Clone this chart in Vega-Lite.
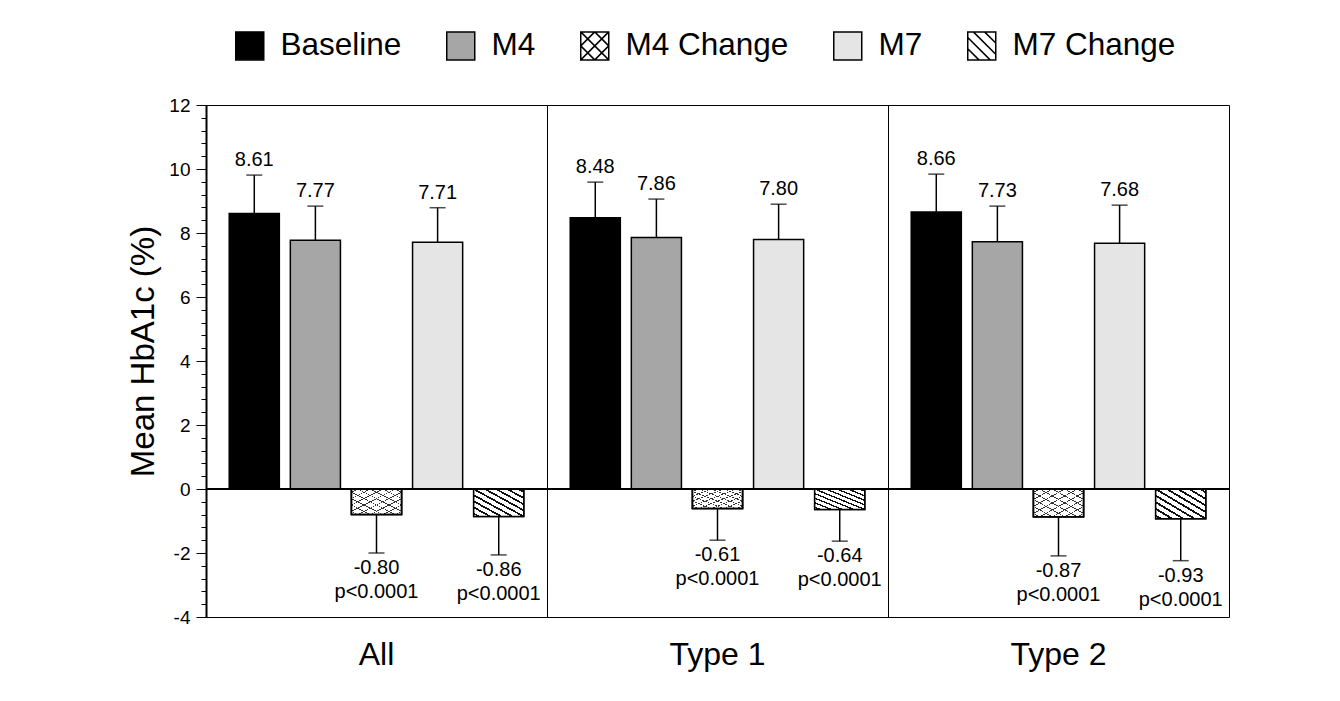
{
  "$schema": "https://vega.github.io/schema/vega-lite/v6.json",
  "padding": {"left": 127, "top": 30, "right": 5, "bottom": 5},
  "background": "white",
  "bounds": "flush",
  "config": {
    "font": "Liberation Sans",
    "view": {"stroke": "black", "strokeWidth": 1},
    "text": {"font": "Liberation Sans", "color": "black"}
  },
  "data": {
    "values": [
      {"group": "All", "series": "Baseline", "value": 8.61, "err": 9.81, "label": "8.61"},
      {"group": "All", "series": "M4", "value": 7.77, "err": 8.84, "label": "7.77"},
      {"group": "All", "series": "M4 Change", "value": -0.80, "err": -2.00, "label": "-0.80\np<0.0001"},
      {"group": "All", "series": "M7", "value": 7.71, "err": 8.79, "label": "7.71"},
      {"group": "All", "series": "M7 Change", "value": -0.86, "err": -2.06, "label": "-0.86\np<0.0001"},
      {"group": "Type 1", "series": "Baseline", "value": 8.48, "err": 9.59, "label": "8.48"},
      {"group": "Type 1", "series": "M4", "value": 7.86, "err": 9.06, "label": "7.86"},
      {"group": "Type 1", "series": "M4 Change", "value": -0.61, "err": -1.60, "label": "-0.61\np<0.0001"},
      {"group": "Type 1", "series": "M7", "value": 7.80, "err": 8.90, "label": "7.80"},
      {"group": "Type 1", "series": "M7 Change", "value": -0.64, "err": -1.63, "label": "-0.64\np<0.0001"},
      {"group": "Type 2", "series": "Baseline", "value": 8.66, "err": 9.84, "label": "8.66"},
      {"group": "Type 2", "series": "M4", "value": 7.73, "err": 8.84, "label": "7.73"},
      {"group": "Type 2", "series": "M4 Change", "value": -0.87, "err": -2.09, "label": "-0.87\np<0.0001"},
      {"group": "Type 2", "series": "M7", "value": 7.68, "err": 8.87, "label": "7.68"},
      {"group": "Type 2", "series": "M7 Change", "value": -0.93, "err": -2.24, "label": "-0.93\np<0.0001"}
    ]
  },
  "facet": {
    "column": {
      "field": "group", "type": "nominal", "sort": ["All", "Type 1", "Type 2"],
      "header": {"title": null, "labelOrient": "bottom", "labelFontSize": 32, "labelPadding": 23, "labelFont": "Liberation Sans", "labelColor": "black"}
    }
  },
  "spacing": 0,
  "spec": {
    "width": 341,
    "height": 512,
    "resolve": {"axis": {"y": "independent"}},
    "layer": [
      {
        "mark": {"type": "bar", "stroke": "black", "strokeWidth": 1.5},
        "encoding": {
          "x": {"field": "series", "type": "nominal", "sort": ["Baseline", "M4", "M4 Change", "M7", "M7 Change"], "axis": null, "scale": {"paddingInner": 0.18, "paddingOuter": 0.38}},
          "y": {
            "field": "value", "type": "quantitative",
            "scale": {"domain": [-4, 12], "nice": false, "zero": false},
            "axis": {
              "orient": "left",
              "title": "Mean HbA1c (%)",
              "titleFontSize": 33, "titleFontWeight": "normal", "titleColor": "black", "titleFont": "Liberation Sans", "titlePadding": 8, "titleY": 246,
              "values": [-4, -2, 0, 2, 4, 6, 8, 10, 12],
              "labelExpr": "datum.value < 0 ? '-' + format(-datum.value, 'd') : format(datum.value, 'd')",
              "tickSize": 10,
              "labelFontSize": 19, "labelColor": "black", "labelFont": "Liberation Sans", "labelPadding": 6,
              "labelOverlap": false, "labelFlush": false,
              "domainColor": "black", "domainWidth": 2, "tickColor": "black", "tickWidth": 1, "grid": false
            }
          },
          "fill": {
            "field": "series", "type": "nominal",
            "scale": {"domain": ["Baseline", "M4", "M4 Change", "M7", "M7 Change"], "range": ["#000000", "#a6a6a6", "#ffffff", "#e5e5e5", "#ffffff"]},
            "legend": {
              "title": null, "orient": "none", "legendX": 28, "legendY": -75, "direction": "horizontal",
              "symbolType": "square", "symbolSize": 784, "labelFontSize": 31.5, "labelFont": "Liberation Sans", "labelColor": "black",
              "labelOffset": 15, "columnPadding": 41, "labelLimit": 400, "symbolStrokeWidth": 1.5, "symbolStrokeColor": "black", "symbolOpacity": 1,
              "encode": {
                "symbols": {
                  "update": {
                    "shape": [
                      {"test": "datum.value === 'M4 Change'", "value": "M-1,-1H1V1H-1Z M-1,0L0,-1 M-1,1L1,-1 M0,1L1,0 M0,-1L1,0 M-1,-1L1,1 M-1,0L0,1"},
                      {"test": "datum.value === 'M7 Change'", "value": "M-1,-1H1V1H-1Z M0.2,-1L1,-0.2 M-0.6,-1L1,0.6 M-1,-0.6L0.6,1 M-1,0.2L-0.2,1"},
                      {"value": "square"}
                    ],
                    "stroke": {"value": "black"},
                    "strokeWidth": {"value": 1.5}
                  }
                }
              }
            }
          }
        }
      },
      {
        "transform": [{"filter": "datum.series === 'M4 Change'"}],
        "mark": {
          "type": "bar", "stroke": "black", "strokeWidth": 1.5,
          "fill": {
            "gradient": "linear", "x1": 0, "y1": 0, "x2": 1, "y2": 1,
            "stops": [
              {"offset": 0, "color": "#ffffff"},
              {"offset": 0.0545, "color": "#ffffff"}, {"offset": 0.0545, "color": "#333333"}, {"offset": 0.0705, "color": "#333333"}, {"offset": 0.0705, "color": "#ffffff"},
              {"offset": 0.1795, "color": "#ffffff"}, {"offset": 0.1795, "color": "#333333"}, {"offset": 0.1955, "color": "#333333"}, {"offset": 0.1955, "color": "#ffffff"},
              {"offset": 0.3045, "color": "#ffffff"}, {"offset": 0.3045, "color": "#333333"}, {"offset": 0.3205, "color": "#333333"}, {"offset": 0.3205, "color": "#ffffff"},
              {"offset": 0.4295, "color": "#ffffff"}, {"offset": 0.4295, "color": "#333333"}, {"offset": 0.4455, "color": "#333333"}, {"offset": 0.4455, "color": "#ffffff"},
              {"offset": 0.5545, "color": "#ffffff"}, {"offset": 0.5545, "color": "#333333"}, {"offset": 0.5705, "color": "#333333"}, {"offset": 0.5705, "color": "#ffffff"},
              {"offset": 0.6795, "color": "#ffffff"}, {"offset": 0.6795, "color": "#333333"}, {"offset": 0.6955, "color": "#333333"}, {"offset": 0.6955, "color": "#ffffff"},
              {"offset": 0.8045, "color": "#ffffff"}, {"offset": 0.8045, "color": "#333333"}, {"offset": 0.8205, "color": "#333333"}, {"offset": 0.8205, "color": "#ffffff"},
              {"offset": 0.9295, "color": "#ffffff"}, {"offset": 0.9295, "color": "#333333"}, {"offset": 0.9455, "color": "#333333"}, {"offset": 0.9455, "color": "#ffffff"},
              {"offset": 1, "color": "#ffffff"}
            ]
          }
        },
        "encoding": {
          "x": {"field": "series", "type": "nominal", "sort": ["Baseline", "M4", "M4 Change", "M7", "M7 Change"], "axis": null, "scale": {"paddingInner": 0.18, "paddingOuter": 0.38}},
          "y": {"field": "value", "type": "quantitative", "scale": {"domain": [-4, 12], "nice": false, "zero": false}, "axis": null}
        }
      },
      {
        "transform": [{"filter": "datum.series === 'M4 Change'"}],
        "mark": {
          "type": "bar", "stroke": "black", "strokeWidth": 1.5,
          "fill": {
            "gradient": "linear", "x1": 0, "y1": 1, "x2": 1, "y2": 0,
            "stops": [
              {"offset": 0, "color": "rgba(255,255,255,0)"},
              {"offset": 0.0545, "color": "rgba(255,255,255,0)"}, {"offset": 0.0545, "color": "#333333"}, {"offset": 0.0705, "color": "#333333"}, {"offset": 0.0705, "color": "rgba(255,255,255,0)"},
              {"offset": 0.1795, "color": "rgba(255,255,255,0)"}, {"offset": 0.1795, "color": "#333333"}, {"offset": 0.1955, "color": "#333333"}, {"offset": 0.1955, "color": "rgba(255,255,255,0)"},
              {"offset": 0.3045, "color": "rgba(255,255,255,0)"}, {"offset": 0.3045, "color": "#333333"}, {"offset": 0.3205, "color": "#333333"}, {"offset": 0.3205, "color": "rgba(255,255,255,0)"},
              {"offset": 0.4295, "color": "rgba(255,255,255,0)"}, {"offset": 0.4295, "color": "#333333"}, {"offset": 0.4455, "color": "#333333"}, {"offset": 0.4455, "color": "rgba(255,255,255,0)"},
              {"offset": 0.5545, "color": "rgba(255,255,255,0)"}, {"offset": 0.5545, "color": "#333333"}, {"offset": 0.5705, "color": "#333333"}, {"offset": 0.5705, "color": "rgba(255,255,255,0)"},
              {"offset": 0.6795, "color": "rgba(255,255,255,0)"}, {"offset": 0.6795, "color": "#333333"}, {"offset": 0.6955, "color": "#333333"}, {"offset": 0.6955, "color": "rgba(255,255,255,0)"},
              {"offset": 0.8045, "color": "rgba(255,255,255,0)"}, {"offset": 0.8045, "color": "#333333"}, {"offset": 0.8205, "color": "#333333"}, {"offset": 0.8205, "color": "rgba(255,255,255,0)"},
              {"offset": 0.9295, "color": "rgba(255,255,255,0)"}, {"offset": 0.9295, "color": "#333333"}, {"offset": 0.9455, "color": "#333333"}, {"offset": 0.9455, "color": "rgba(255,255,255,0)"},
              {"offset": 1, "color": "rgba(255,255,255,0)"}
            ]
          }
        },
        "encoding": {
          "x": {"field": "series", "type": "nominal", "sort": ["Baseline", "M4", "M4 Change", "M7", "M7 Change"], "axis": null, "scale": {"paddingInner": 0.18, "paddingOuter": 0.38}},
          "y": {"field": "value", "type": "quantitative", "scale": {"domain": [-4, 12], "nice": false, "zero": false}, "axis": null}
        }
      },
      {
        "transform": [{"filter": "datum.series === 'M7 Change'"}],
        "mark": {
          "type": "bar", "stroke": "black", "strokeWidth": 1.5,
          "fill": {
            "gradient": "linear", "x1": 0, "y1": 1, "x2": 1, "y2": 0,
            "stops": [
              {"offset": 0, "color": "#ffffff"},
              {"offset": 0.038, "color": "#ffffff"}, {"offset": 0.038, "color": "#111111"}, {"offset": 0.073, "color": "#111111"}, {"offset": 0.073, "color": "#ffffff"},
              {"offset": 0.149, "color": "#ffffff"}, {"offset": 0.149, "color": "#111111"}, {"offset": 0.184, "color": "#111111"}, {"offset": 0.184, "color": "#ffffff"},
              {"offset": 0.260, "color": "#ffffff"}, {"offset": 0.260, "color": "#111111"}, {"offset": 0.295, "color": "#111111"}, {"offset": 0.295, "color": "#ffffff"},
              {"offset": 0.371, "color": "#ffffff"}, {"offset": 0.371, "color": "#111111"}, {"offset": 0.406, "color": "#111111"}, {"offset": 0.406, "color": "#ffffff"},
              {"offset": 0.4825, "color": "#ffffff"}, {"offset": 0.4825, "color": "#111111"}, {"offset": 0.5175, "color": "#111111"}, {"offset": 0.5175, "color": "#ffffff"},
              {"offset": 0.594, "color": "#ffffff"}, {"offset": 0.594, "color": "#111111"}, {"offset": 0.629, "color": "#111111"}, {"offset": 0.629, "color": "#ffffff"},
              {"offset": 0.705, "color": "#ffffff"}, {"offset": 0.705, "color": "#111111"}, {"offset": 0.740, "color": "#111111"}, {"offset": 0.740, "color": "#ffffff"},
              {"offset": 0.816, "color": "#ffffff"}, {"offset": 0.816, "color": "#111111"}, {"offset": 0.851, "color": "#111111"}, {"offset": 0.851, "color": "#ffffff"},
              {"offset": 0.927, "color": "#ffffff"}, {"offset": 0.927, "color": "#111111"}, {"offset": 0.962, "color": "#111111"}, {"offset": 0.962, "color": "#ffffff"},
              {"offset": 1, "color": "#ffffff"}
            ]
          }
        },
        "encoding": {
          "x": {"field": "series", "type": "nominal", "sort": ["Baseline", "M4", "M4 Change", "M7", "M7 Change"], "axis": null, "scale": {"paddingInner": 0.18, "paddingOuter": 0.38}},
          "y": {"field": "value", "type": "quantitative", "scale": {"domain": [-4, 12], "nice": false, "zero": false}, "axis": null}
        }
      },
      {
        "mark": {"type": "rule", "color": "black", "strokeWidth": 1.5},
        "encoding": {
          "y": {
            "datum": 0, "type": "quantitative", "scale": {"domain": [-4, 12], "nice": false, "zero": false},
            "axis": {
              "orient": "left", "title": null, "labels": false, "domain": false, "grid": false,
              "values": [-3.6, -3.2, -2.8, -2.4, -1.6, -1.2, -0.8, -0.4, 0.4, 0.8, 1.2, 1.6, 2.4, 2.8, 3.2, 3.6, 4.4, 4.8, 5.2, 5.6, 6.4, 6.8, 7.2, 7.6, 8.4, 8.8, 9.2, 9.6, 10.4, 10.8, 11.2, 11.6],
              "tickSize": 5, "tickColor": "black", "tickWidth": 1
            }
          }
        }
      },
      {
        "mark": {"type": "rule", "color": "black", "strokeWidth": 1.5},
        "encoding": {
          "x": {"field": "series", "type": "nominal", "sort": ["Baseline", "M4", "M4 Change", "M7", "M7 Change"], "axis": null, "scale": {"paddingInner": 0.18, "paddingOuter": 0.38}},
          "y": {"field": "value", "type": "quantitative", "scale": {"domain": [-4, 12], "nice": false, "zero": false}, "axis": null},
          "y2": {"field": "err"}
        }
      },
      {
        "mark": {"type": "tick", "color": "black", "size": 16, "thickness": 1.5, "orient": "horizontal"},
        "encoding": {
          "x": {"field": "series", "type": "nominal", "sort": ["Baseline", "M4", "M4 Change", "M7", "M7 Change"], "axis": null, "scale": {"paddingInner": 0.18, "paddingOuter": 0.38}},
          "y": {"field": "err", "type": "quantitative", "scale": {"domain": [-4, 12], "nice": false, "zero": false}, "axis": null}
        }
      },
      {
        "transform": [{"filter": "datum.value >= 0"}],
        "mark": {"type": "text", "fontSize": 20, "baseline": "alphabetic", "align": "center", "dy": -9, "color": "black"},
        "encoding": {
          "x": {"field": "series", "type": "nominal", "sort": ["Baseline", "M4", "M4 Change", "M7", "M7 Change"], "axis": null, "scale": {"paddingInner": 0.18, "paddingOuter": 0.38}},
          "y": {"field": "err", "type": "quantitative", "scale": {"domain": [-4, 12], "nice": false, "zero": false}, "axis": null},
          "text": {"field": "label"}
        }
      },
      {
        "transform": [{"filter": "datum.value < 0"}],
        "mark": {"type": "text", "fontSize": 20, "baseline": "alphabetic", "align": "center", "dy": 21, "lineHeight": 24, "lineBreak": "\n", "color": "black"},
        "encoding": {
          "x": {"field": "series", "type": "nominal", "sort": ["Baseline", "M4", "M4 Change", "M7", "M7 Change"], "axis": null, "scale": {"paddingInner": 0.18, "paddingOuter": 0.38}},
          "y": {"field": "err", "type": "quantitative", "scale": {"domain": [-4, 12], "nice": false, "zero": false}, "axis": null},
          "text": {"field": "label"}
        }
      }
    ]
  }
}
